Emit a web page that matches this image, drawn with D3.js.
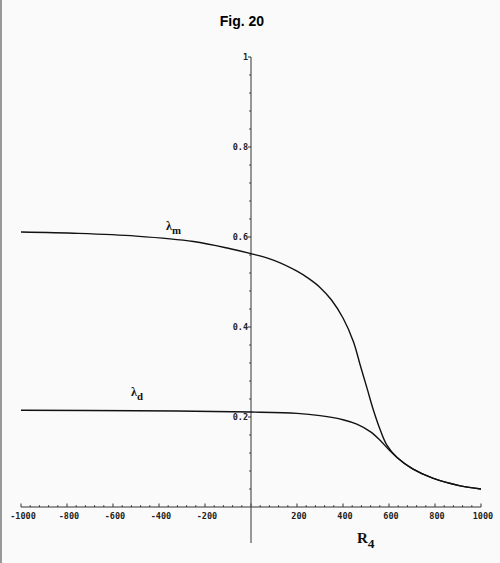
<!DOCTYPE html>
<html>
<meta charset="utf-8">
<script src="https://d3js.org/d3.v7.min.js"></script>
<style>
  body { margin: 0; background: #fafafa; }
  svg { display: block; }
</style>
<body>
<div id="chart"></div>
<script>

    // lambda_m curve
    var xM = [-1000, -750, -500, -250, -90, 0, 100, 200, 250, 300, 350, 400, 445, 475, 505, 530, 560, 590, 635, 705, 790, 910, 1000];
    var yM = [0.611, 0.608, 0.602, 0.590, 0.574, 0.563, 0.548, 0.524, 0.508, 0.488, 0.460, 0.420, 0.368, 0.315, 0.263, 0.219, 0.174, 0.138, 0.110, 0.084, 0.064, 0.047, 0.040];

    // lambda_d curve
    var xD = [-1000, -500, 0, 200, 300, 400, 460, 520, 560, 600, 635, 705, 790, 910, 1000];
    var yD = [0.215, 0.214, 0.211, 0.208, 0.203, 0.194, 0.184, 0.167, 0.149, 0.127, 0.110, 0.084, 0.064, 0.047, 0.040];

    // tick labels
    var xTicks = [-1000, -800, -600, -400, -200, 200, 400, 600, 800, 1000];
    var yTicks = [0.2, 0.4, 0.6, 0.8, 1];
    var yTickLabels = ["0.2", "0.4", "0.6", "0.8", "1"];

    var width = 500, height = 563;

    var svg = d3.select("#chart")
        .append("svg")
            .attr("width", width)
            .attr("height", height);

    svg.append("rect")
        .attr("width", width).attr("height", height)
        .attr("fill", "#fafafa");

    // left frame edge
    svg.append("line")
        .attr("x1", 1).attr("x2", 1)
        .attr("y1", 0).attr("y2", height)
        .attr("stroke", "#999").attr("stroke-width", 2);

    // scales
    var x = d3.scaleLinear().domain([-1000, 1000]).range([21, 481]);
    var y = d3.scaleLinear().domain([0, 1]).range([507, 57]);

    // title
    svg.append("text")
        .attr("x", 242).attr("y", 26)
        .attr("text-anchor", "middle")
        .style("font-family", "Liberation Sans, Arial, sans-serif")
        .style("font-weight", "bold")
        .style("font-size", "14px")
        .text("Fig. 20");

    //-----------//
    //   X axis  //
    //-----------//
    var xAxis = svg.append("g");
    xAxis.append("line")
        .attr("x1", x(-1000)).attr("x2", x(1000))
        .attr("y1", y(0)).attr("y2", y(0))
        .attr("stroke", "#333").attr("stroke-width", 1.2);

    xAxis.selectAll(".minor")
        .data(d3.range(-1000, 1001, 40))
        .enter()
        .append("line")
            .attr("x1", function(d){ return x(d); })
            .attr("x2", function(d){ return x(d); })
            .attr("y1", y(0))
            .attr("y2", function(d){ return d % 200 === 0 ? y(0) - 3.5 : y(0) - 1.8; })
            .attr("stroke", "#333").attr("stroke-width", 1);

    xAxis.selectAll(".lbl")
        .data(xTicks)
        .enter()
        .append("text")
            .attr("x", function(d){ return x(d) + 2; })
            .attr("y", 519)
            .attr("text-anchor", "middle")
            .style("font-family", "DejaVu Sans Mono, monospace")
            .style("font-weight", "bold")
            .style("font-size", "8.5px")
            .style("fill", "#222")
            .text(function(d){ return d; });

    //-----------//
    //   Y axis  //
    //-----------//
    var yAxis = svg.append("g");
    yAxis.append("line")
        .attr("x1", x(0)).attr("x2", x(0))
        .attr("y1", y(1)).attr("y2", 543)
        .attr("stroke", "#555").attr("stroke-width", 1.2);

    yAxis.selectAll(".minor")
        .data(d3.range(0, 25).map(function(i){ return i * 0.04 + 0.04; }))
        .enter()
        .append("line")
            .attr("x1", x(0))
            .attr("x2", function(d, i){ return (i + 1) % 5 === 0 ? x(0) - 3 : x(0) - 1.8; })
            .attr("y1", function(d){ return y(d); })
            .attr("y2", function(d){ return y(d); })
            .attr("stroke", "#333").attr("stroke-width", 1);

    yAxis.selectAll(".lbl")
        .data(yTicks)
        .enter()
        .append("text")
            .attr("x", x(0) - 3)
            .attr("y", function(d){ return y(d) + 3; })
            .attr("text-anchor", "end")
            .style("font-family", "DejaVu Sans Mono, monospace")
            .style("font-weight", "bold")
            .style("font-size", "8.5px")
            .style("fill", "#222")
            .text(function(d, i){ return yTickLabels[i]; });

    //-----------//
    //   Curves  //
    //-----------//
    var line = d3.line()
        .x(function(d){ return x(d[0]); })
        .y(function(d){ return y(d[1]); })
        .curve(d3.curveCatmullRom.alpha(0.5));

    svg.append("path")
        .datum(d3.zip(xM, yM))
        .attr("d", line)
        .attr("fill", "none")
        .attr("stroke", "#111")
        .attr("stroke-width", 1.4);

    svg.append("path")
        .datum(d3.zip(xD, yD))
        .attr("d", line)
        .attr("fill", "none")
        .attr("stroke", "#111")
        .attr("stroke-width", 1.4);

    // curve labels
    function subLabel(px, py, main, sub, size) {
        var t = svg.append("text")
            .attr("x", px).attr("y", py)
            .style("font-family", "Liberation Serif, DejaVu Serif, serif")
            .style("font-weight", "bold")
            .style("font-size", size + "px")
            .style("fill", "#111");
        t.append("tspan").text(main);
        t.append("tspan").attr("dy", size * 0.35).style("font-size", (size * 0.9) + "px").text(sub);
    }
    subLabel(166, 230, "λ", "m", 12);
    subLabel(131, 396, "λ", "d", 12);
    subLabel(357, 543, "R", "4", 15);

</script>
</body>
</html>
